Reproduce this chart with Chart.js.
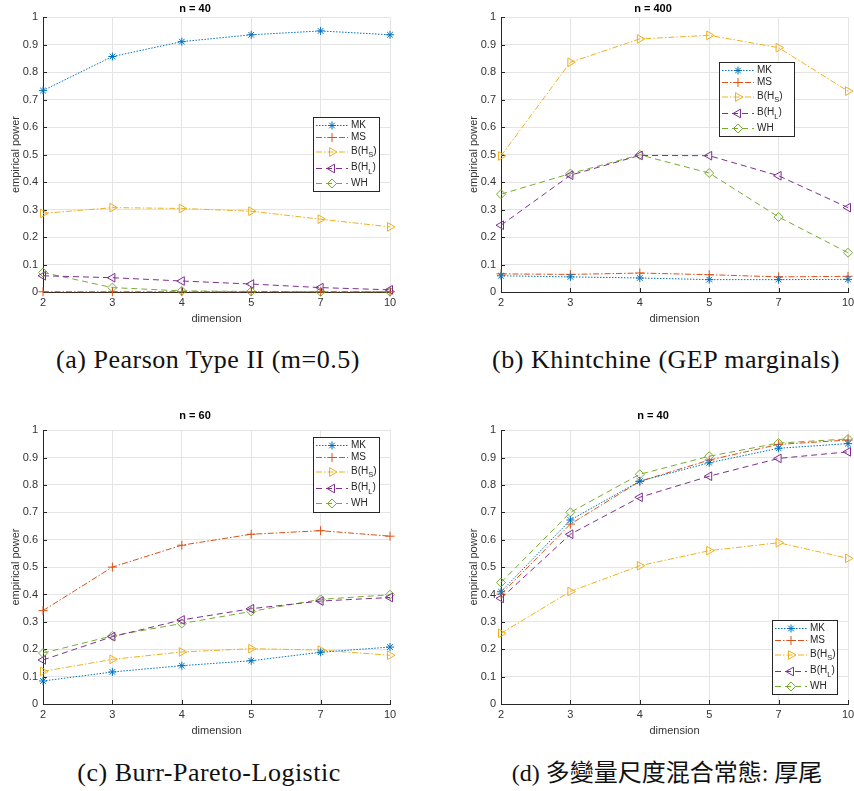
<!DOCTYPE html>
<html>
<head>
<meta charset="utf-8">
<script src="https://cdn.jsdelivr.net/npm/chart.js@4.4.0/dist/chart.umd.min.js"></script>
<style>
  html, body { margin: 0; padding: 0; background: #fff; }
  body { width: 854px; height: 791px; position: relative; overflow: hidden; }
  canvas { position: absolute; }
  .cap {
    position: absolute; white-space: nowrap; transform: translateX(-50%);
    font-family: "Liberation Serif", "Noto Sans CJK TC", serif; font-size: 26px;
    letter-spacing: 0.5px; line-height: 26px; color: #111;
  }
  .cap.cjk { font-size: 24px; letter-spacing: 0; }
</style>
</head>
<body>
<canvas id="chartA" width="430" height="332" style="left:0;top:0"></canvas>
<canvas id="chartB" width="426" height="332" style="left:458px;top:0"></canvas>
<canvas id="chartC" width="430" height="337" style="left:0;top:407px"></canvas>
<canvas id="chartD" width="426" height="337" style="left:458px;top:407px"></canvas>

<div class="cap" style="left:208px;top:347px">(a) Pearson Type II (m=0.5)</div>
<div class="cap" style="left:666px;top:347px">(b) Khintchine (GEP marginals)</div>
<div class="cap" style="left:209px;top:760px">(c) Burr-Pareto-Logistic</div>
<div class="cap cjk" style="left:667px;top:760px">(d) 多變量尺度混合常態: 厚尾</div>

<script>
// ---------------------------------------------------------------
// Data (empirical power per dimension)
// ---------------------------------------------------------------
const dims = ['2', '3', '4', '5', '7', '10'];
const yTicks = ['0', '0.1', '0.2', '0.3', '0.4', '0.5', '0.6', '0.7', '0.8', '0.9', '1'];
const testNames = ['MK', 'MS', 'B(H_S)', 'B(H_L)', 'WH'];

// (a) Pearson Type II (m=0.5), n = 40
const pearsonMK  = [0.733, 0.857, 0.911, 0.936, 0.950, 0.936];
const pearsonMS  = [0.001, 0.001, 0.001, 0.001, 0.001, 0.001];
const pearsonBHS = [0.286, 0.307, 0.304, 0.294, 0.265, 0.237];
const pearsonBHL = [0.059, 0.052, 0.040, 0.029, 0.016, 0.008];
const pearsonWH  = [0.071, 0.016, 0.004, 0.002, 0.001, 0.001];

// (b) Khintchine (GEP marginals), n = 400
const khinMK  = [0.059, 0.055, 0.051, 0.045, 0.045, 0.046];
const khinMS  = [0.066, 0.064, 0.069, 0.063, 0.055, 0.057];
const khinBHS = [0.495, 0.836, 0.921, 0.934, 0.889, 0.731];
const khinBHL = [0.243, 0.425, 0.497, 0.496, 0.423, 0.307];
const khinWH  = [0.356, 0.431, 0.499, 0.433, 0.273, 0.143];

// (c) Burr-Pareto-Logistic, n = 60
const burrMK  = [0.084, 0.117, 0.140, 0.158, 0.189, 0.208];
const burrMS  = [0.341, 0.500, 0.580, 0.620, 0.633, 0.613];
const burrBHS = [0.119, 0.163, 0.190, 0.202, 0.197, 0.178];
const burrBHL = [0.161, 0.246, 0.307, 0.348, 0.376, 0.389];
const burrWH  = [0.186, 0.249, 0.294, 0.338, 0.382, 0.399];

// (d) scale mixture of normals, heavy tail, n = 40
const mixMK  = [0.410, 0.672, 0.814, 0.881, 0.934, 0.951];
const mixMS  = [0.401, 0.657, 0.813, 0.891, 0.948, 0.964];
const mixBHS = [0.258, 0.411, 0.505, 0.560, 0.589, 0.532];
const mixBHL = [0.386, 0.620, 0.755, 0.832, 0.897, 0.921];
const mixWH  = [0.444, 0.700, 0.839, 0.905, 0.953, 0.968];

// ---------------------------------------------------------------
// Series look (MATLAB default colour order)
// ---------------------------------------------------------------
const seriesStyle = [
  { color: '#0072BD', dash: [1.5, 1.5],        point: 'star',     rot: 0,   r: 4 },
  { color: '#D95319', dash: [6, 2, 1.5, 2],    point: 'cross',    rot: 0,   r: 4.5 },
  { color: '#EDB120', dash: [6, 2, 1.5, 2],    point: 'triangle', rot: 90,  r: 5 },
  { color: '#7E2F8E', dash: [6, 4],            point: 'triangle', rot: -90, r: 5 },
  { color: '#77AC30', dash: [6, 4],            point: 'rectRot',  rot: 0,   r: 4.5 }
];

const FONT = '"Liberation Sans", Arial, sans-serif';
const INK = '#262626';

// inward tick marks like MATLAB axes
const innerTicks = {
  id: 'innerTicks',
  beforeDatasetsDraw(chart) {
    const { ctx, chartArea: { left, bottom }, scales: { x, y } } = chart;
    ctx.save();
    ctx.strokeStyle = INK;
    ctx.lineWidth = 1;
    ctx.beginPath();
    y.ticks.forEach((t, i) => {
      const py = Math.round(y.getPixelForTick(i)) + 0.5;
      ctx.moveTo(left, py); ctx.lineTo(left + 4, py);
    });
    x.ticks.forEach((t, i) => {
      const px = Math.round(x.getPixelForTick(i)) + 0.5;
      ctx.moveTo(px, bottom); ctx.lineTo(px, bottom - 4);
    });
    ctx.stroke();
    ctx.restore();
  }
};

// boxed legend placed inside the axes
const boxLegend = {
  id: 'boxLegend',
  afterDatasetsDraw(chart, args, opts) {
    const { ctx } = chart;
    const { x, y, w, h } = opts;
    const rows = [8.5, 20.5, 35, 51.5, 66.5];
    ctx.save();
    ctx.fillStyle = '#fff';
    ctx.fillRect(x, y, w, h);
    ctx.strokeStyle = INK;
    ctx.lineWidth = 1;
    ctx.setLineDash([]);
    ctx.strokeRect(Math.round(x) + 0.5, Math.round(y) + 0.5, w, h);

    chart.data.datasets.forEach((ds, i) => {
      const cy = y + rows[i];
      ctx.strokeStyle = ds.borderColor;
      ctx.lineWidth = 1;
      ctx.setLineDash(ds.borderDash);
      ctx.beginPath();
      ctx.moveTo(x + 3, cy); ctx.lineTo(x + 35, cy);
      ctx.stroke();
      ctx.setLineDash([]);
      ctx.fillStyle = 'rgba(0,0,0,0)';
      Chart.helpers.drawPoint(ctx, {
        pointStyle: ds.pointStyle, rotation: ds.pointRotation,
        radius: ds.pointRadius, borderWidth: 1
      }, x + 19, cy);

      // label, with subscript after "_"
      ctx.fillStyle = INK;
      ctx.textBaseline = 'middle';
      ctx.textAlign = 'left';
      ctx.font = '10px ' + FONT;
      let tx = x + 38;
      const parts = ds.label.split('_');
      if (parts.length === 1) {
        ctx.fillText(ds.label, tx, cy);
      } else {
        const base = parts[0], sub = parts[1].slice(0, 1), tail = parts[1].slice(1);
        ctx.fillText(base, tx, cy - 1);
        tx += ctx.measureText(base).width;
        ctx.font = '7.5px ' + FONT;
        ctx.fillText(sub, tx, cy + 3);
        tx += ctx.measureText(sub).width;
        ctx.font = '10px ' + FONT;
        ctx.fillText(tail, tx, cy - 1);
      }
    });
    ctx.restore();
  }
};

function makeChart(id, title, series, padRight, titleGap, legendBox) {
  new Chart(document.getElementById(id), {
    type: 'line',
    data: {
      labels: dims,
      datasets: series.map((vals, i) => ({
        label: testNames[i],
        data: vals,
        borderColor: seriesStyle[i].color,
        borderWidth: 1,
        borderDash: seriesStyle[i].dash,
        pointStyle: seriesStyle[i].point,
        pointRotation: seriesStyle[i].rot,
        pointRadius: seriesStyle[i].r,
        pointBorderWidth: 1,
        pointBorderColor: seriesStyle[i].color,
        pointBackgroundColor: 'rgba(0,0,0,0)',
        tension: 0,
        fill: false,
        clip: false
      }))
    },
    options: {
      responsive: false,
      animation: false,
      layout: { padding: { left: 0, right: padRight, top: 0, bottom: 0 } },
      plugins: {
        legend: { display: false },
        tooltip: { enabled: false },
        title: {
          display: true, text: title, color: '#000',
          font: { family: FONT, size: 11, weight: 'bold' },
          padding: { top: 2, bottom: titleGap }
        },
        boxLegend: legendBox
      },
      scales: {
        x: {
          type: 'category',
          offset: false,
          grid: { color: '#e4e4e4', drawTicks: false },
          border: { color: INK, width: 1 },
          ticks: { color: '#333', font: { family: FONT, size: 11 }, padding: 4, maxRotation: 0, autoSkip: false },
          title: { display: true, text: 'dimension', color: '#333', font: { family: FONT, size: 11 }, padding: { top: 0, bottom: 6 } },
          afterFit(s) { s.height = 40; }
        },
        y: {
          min: 0, max: 1,
          grid: { color: '#e4e4e4', drawTicks: false },
          border: { color: INK, width: 1 },
          ticks: {
            stepSize: 0.1, color: '#333', font: { family: FONT, size: 11 }, padding: 5,
            callback: v => yTicks[Math.round(v * 10)]
          },
          title: { display: true, text: 'empirical power', color: '#333', font: { family: FONT, size: 11 }, padding: { top: 9, bottom: 0 } },
          afterFit(s) { s.width = 43; }
        }
      }
    },
    plugins: [innerTicks, boxLegend]
  });
}

makeChart('chartA', 'n = 40',
  [pearsonMK, pearsonMS, pearsonBHS, pearsonBHL, pearsonWH], 40, 2,
  { x: 313, y: 117, w: 66, h: 74 });
makeChart('chartB', 'n = 400',
  [khinMK, khinMS, khinBHS, khinBHL, khinWH], 36, 2,
  { x: 261, y: 62, w: 75, h: 74 });
makeChart('chartC', 'n = 60',
  [burrMK, burrMS, burrBHS, burrBHL, burrWH], 40, 8,
  { x: 313, y: 30, w: 66, h: 75 });
makeChart('chartD', 'n = 40',
  [mixMK, mixMS, mixBHS, mixBHL, mixWH], 36, 8,
  { x: 314, y: 213, w: 65, h: 74 });
</script>
</body>
</html>
